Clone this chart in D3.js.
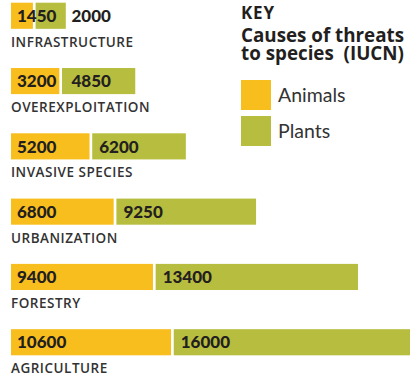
<!DOCTYPE html>
<html><head><meta charset="utf-8">
<script src="https://cdn.jsdelivr.net/npm/d3@7"></script>
<style>
html,body{margin:0;padding:0;background:#fff;}
svg{display:block;}
</style></head>
<body>
<script>
const categories = ["INFRASTRUCTURE","OVEREXPLOITATION","INVASIVE SPECIES","URBANIZATION","FORESTRY","AGRICULTURE"];
const animals = [1450, 3200, 5200, 6800, 9400, 10600];
const plants  = [2000, 4850, 6200, 9250, 13400, 16000];
const seriesNames = ["Animals","Plants"];
const colors = ["#F8BE1E","#B7BD3E"];
const keyTitle = ["KEY","Causes of threats","to species  (IUCN)"];

const W = 410, H = 378;
const svg = d3.select("body").append("svg").attr("width", W).attr("height", H);

const x0 = 11, gap = 2.7;
const len = d3.scaleLinear().domain([0, 10000]).range([0, 151]);
const y = d3.scaleBand().domain(categories).range([2.7, 355.3]).paddingInner(0.6).paddingOuter(0);

const valFont = "Lato, 'Open Sans', sans-serif";
const keyFont = "'Open Sans', sans-serif";

categories.forEach((c, i) => {
  const g = svg.append("g");
  const yt = y(c), bh = y.bandwidth();
  const aEnd = x0 + len(animals[i]);
  const pStart = aEnd + gap;
  g.append("rect").attr("x", x0).attr("y", yt).attr("width", len(animals[i])).attr("height", bh).attr("fill", colors[0]);
  g.append("rect").attr("x", pStart).attr("y", yt).attr("width", len(plants[i])).attr("height", bh).attr("fill", colors[1]);
  const ta = g.append("text").attr("x", x0 + 6).attr("y", yt + bh/2 + 6.2)
    .attr("font-family", valFont).attr("font-weight", 900).attr("font-size", 17).attr("fill", "#231f20")
    .text(animals[i]);
  const taEnd = x0 + 6 + ta.node().getComputedTextLength();
  g.append("text").attr("x", Math.max(pStart + 7, taEnd + 15)).attr("y", yt + bh/2 + 6.2)
    .attr("font-family", valFont).attr("font-weight", 900).attr("font-size", 17).attr("fill", "#231f20")
    .text(plants[i]);
  g.append("text").attr("x", x0).attr("y", yt + bh + 18)
    .attr("font-family", keyFont).attr("font-weight", 600).attr("font-size", 13.5)
    .attr("letter-spacing", 0.5).attr("fill", "#333")
    .text(c);
});

// Key
const kx = 241;
const kt = svg.append("g").attr("font-family", keyFont).attr("font-weight", 700).attr("font-size", 18.8).attr("fill", "#231f20");
kt.append("text").attr("x", kx).attr("y", 18.5).attr("font-size", 17).attr("letter-spacing", 0.8).text(keyTitle[0]);
const sub = kt.append("text").attr("x", kx).attr("y", 41.5).style("white-space","pre");
sub.append("tspan").attr("x", kx).attr("y", 41.5).text(keyTitle[1]);
sub.append("tspan").attr("x", kx).attr("y", 60).text(keyTitle[2]);

const ky = [80, 116];
seriesNames.forEach((s, i) => {
  svg.append("rect").attr("x", kx).attr("y", ky[i]).attr("width", 30).attr("height", 30).attr("fill", colors[i]);
  svg.append("text").attr("x", kx + 37).attr("y", ky[i] + 21.5)
    .attr("font-family", valFont).attr("font-weight", 400).attr("font-size", 19.5).attr("fill", "#333")
    .text(s);
});
</script>
</body></html>
